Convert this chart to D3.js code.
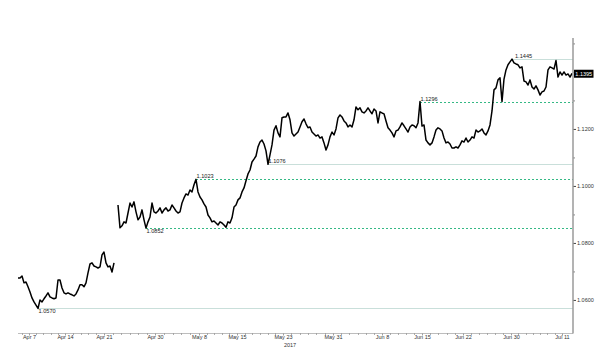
<!DOCTYPE html>
<html><head><meta charset="utf-8">
<script src="https://cdn.jsdelivr.net/npm/d3@7"></script>
<style>body{margin:0;background:#fff}svg{display:block}</style>
</head><body>
<svg id="c" width="600" height="358"></svg>
<script>
// EUR/USD price path (null = weekend gap)
const series = [
1.0677,1.0677,1.0684,1.0660,1.0663,1.0646,1.0628,1.0607,1.0593,1.0582,
1.0570,1.0600,1.0593,1.0604,1.0614,1.0625,1.0611,1.0607,1.0604,1.0607,
1.0670,1.0670,1.0642,1.0625,1.0621,1.0625,1.0621,1.0618,1.0614,1.0621,
1.0635,1.0653,1.0653,1.0646,1.0660,1.0695,1.0726,1.0730,1.0719,1.0716,
1.0712,1.0716,1.0758,1.0768,1.0730,1.0716,1.0719,1.0698,1.0730,null,
1.0933,1.0853,1.0860,1.0874,1.0870,1.0905,1.0940,1.0926,1.0944,1.0909,
1.0881,1.0891,1.0916,1.0881,1.0852,1.0874,1.0891,1.0940,1.0909,1.0905,
1.0912,1.0923,1.0905,1.0916,1.0923,1.0912,1.0916,1.0933,1.0923,1.0912,
1.0905,1.0909,1.0940,1.0958,1.0972,1.0968,1.0986,1.0979,1.1004,1.1023,
1.0979,1.0961,1.0951,1.0937,1.0926,1.0898,1.0888,1.0874,1.0877,1.0870,
1.0863,1.0874,1.0870,1.0863,1.0855,1.0874,1.0870,1.0888,1.0926,1.0933,
1.0951,1.0958,1.0979,1.0993,1.1018,1.1042,1.1056,1.1084,1.1094,1.1105,
1.1137,1.1154,1.1161,1.1147,1.1123,1.1076,1.1109,1.1144,1.1196,1.1211,
1.1186,1.1172,1.1239,1.1242,1.1242,1.1256,1.1232,1.1186,1.1175,1.1182,
1.1189,1.1207,1.1225,1.1235,1.1218,1.1204,1.1207,1.1189,1.1182,1.1175,
1.1179,1.1168,1.1172,1.1151,1.1126,1.1144,1.1172,1.1189,1.1179,1.1200,
1.1239,1.1249,1.1242,1.1228,1.1221,1.1207,1.1214,1.1207,1.1232,1.1277,
1.1267,1.1274,1.1260,1.1256,1.1263,1.1274,1.1263,1.1253,1.1270,1.1263,
1.1221,1.1260,1.1256,1.1253,1.1228,1.1204,1.1196,1.1186,1.1172,1.1193,
1.1196,1.1207,1.1221,1.1211,1.1200,1.1189,1.1207,1.1214,1.1211,1.1204,
1.1221,1.1296,1.1210,1.1214,1.1161,1.1151,1.1144,1.1151,1.1172,1.1196,
1.1204,1.1200,1.1193,1.1168,1.1151,1.1154,1.1147,1.1133,1.1133,1.1137,
1.1133,1.1144,1.1158,1.1154,1.1168,1.1154,1.1161,1.1172,1.1168,1.1196,
1.1189,1.1193,1.1200,1.1186,1.1179,1.1193,1.1214,1.1263,1.1337,1.1344,
1.1372,1.1379,1.1296,1.1375,1.1407,1.1425,1.1435,1.1445,1.1432,1.1428,
1.1425,1.1414,1.1418,1.1368,1.1365,1.1354,1.1372,1.1347,1.1340,1.1351,
1.1337,1.1319,1.1330,1.1333,1.1347,1.1407,1.1418,1.1414,1.1410,1.1440,
1.1382,1.1400,1.1389,1.1400,1.1389,1.1393,1.1382,1.1395
];
const tickLabels = ["Apr 7","Apr 14","Apr 21","Apr 30","May 8","May 15","May 23","May 31","Jun 8","Jun 15","Jun 22","Jun 30","Jul 11"];
const tickIndex  = [5.5,23.5,43,68.5,90.5,109.5,132.5,157.5,182,202,222.5,246.5,272];
const tradingDays = [5,5,6,5,5,6,6,6,5,5,6,7];
const yearLabel = "2017";
const yearUnder = "May 23";
const yLabelled = [1.06,1.08,1.10,1.12];
const yHiddenMajor = [1.14];
const yMinor = [1.07,1.09,1.11,1.13,1.15];
const levelValues = [1.1445,1.1296,1.1076,1.1023,1.0852,1.0570];
const levelSide   = ["above","above","above","above","below","below"];
const dottedLevels = [1.1296,1.1023,1.0852];
const lastValue = 1.1395;

const svg = d3.select("#c");
const font = "'Liberation Sans', Arial, sans-serif";
const x = d3.scaleLinear().domain([0, series.length - 1]).range([18, 572]);
const y = d3.scaleLinear().domain([1.0484, 1.1519]).range([333, 38]);
const axisX = 573;
const snap = v => Math.round(v) + 0.5;

// ---- x axis
svg.append("line").attr("x1",18).attr("x2",axisX).attr("y1",333.5).attr("y2",333.5)
  .attr("stroke","#bdbdbd").attr("stroke-width",1);
const minor = [];
for (let k = 0; k < tickIndex.length - 1; k++) {
  const step = (tickIndex[k+1] - tickIndex[k]) / tradingDays[k];
  for (let j = 1; j < tradingDays[k]; j++) minor.push(tickIndex[k] + j*step);
}
minor.push(tickIndex[0] - (tickIndex[1]-tickIndex[0])/tradingDays[0]);
svg.append("g").selectAll("line").data(minor).join("line")
  .attr("x1",d=>snap(x(d))).attr("x2",d=>snap(x(d))).attr("y1",333).attr("y2",335)
  .attr("stroke","#999").attr("stroke-width",0.8);
const gx = svg.append("g").attr("transform","translate(0,333.5)")
  .call(d3.axisBottom(x).tickValues(tickIndex).tickSize(2).tickSizeOuter(0).tickPadding(0)
    .tickFormat((d,i)=>tickLabels[i]));
gx.select(".domain").remove();
gx.selectAll(".tick line").attr("stroke","#888").attr("stroke-width",0.8);
gx.selectAll(".tick text").attr("font-family",font).attr("font-size","5.5px").attr("fill","#333");
const yi = tickLabels.indexOf(yearUnder);
svg.append("text").attr("x", x(tickIndex[yi]) + 7).attr("y", 347)
  .attr("text-anchor","middle").attr("font-family",font).attr("font-size","5.5px").attr("fill","#333")
  .text(yearLabel);

// ---- reference levels
const gl = svg.append("g");
levelValues.forEach((v, k) => {
  const idx = series.indexOf(v);
  const dotted = dottedLevels.includes(v);
  gl.append("line").attr("x1", x(idx)).attr("x2", axisX).attr("y1", snap(y(v))).attr("y2", snap(y(v)))
    .attr("stroke", dotted ? "#35b985" : "#c9dfda").attr("stroke-width", 1)
    .attr("stroke-dasharray", dotted ? "2,2" : null);
});

// ---- price line
svg.append("path").datum(series)
  .attr("d", d3.line().defined(d => d !== null).x((d,i) => x(i)).y(d => y(d)))
  .attr("fill","none").attr("stroke","#000").attr("stroke-width",1.5)
  .attr("stroke-linejoin","round");

// level labels
levelValues.forEach((v, k) => {
  const idx = series.indexOf(v);
  const above = levelSide[k] === "above";
  const tx = x(idx) + (k === 0 ? 3 : 0.5);
  const ty = above ? snap(y(v)) - 2 : snap(y(v)) + 4.8;
  const t = gl.append("text").attr("x", tx).attr("y", ty)
    .attr("font-family", font).attr("font-size","5.6px").attr("fill","#222")
    .text(d3.format(".4f")(v));
  if (!above) {
    const bb = t.node().getBBox();
    gl.insert("rect", "text").attr("x", bb.x - 0.5).attr("y", bb.y + 1).attr("width", bb.width + 1)
      .attr("height", bb.height - 1).attr("fill", "#fff");
  }
});

// ---- y axis
const gyMinor = svg.append("g").attr("transform",`translate(${axisX},0)`)
  .call(d3.axisRight(y).tickValues(yMinor.concat(yHiddenMajor)).tickSize(2).tickFormat(""));
gyMinor.select(".domain").remove();
gyMinor.selectAll(".tick line").attr("stroke","#888");
const gy = svg.append("g").attr("transform",`translate(${axisX},0)`)
  .call(d3.axisRight(y).tickValues(yLabelled).tickSize(3).tickPadding(1).tickFormat(d3.format(".4f")));
gy.select(".domain").remove();
gy.selectAll(".tick line").attr("stroke","#444");
gy.selectAll(".tick text").attr("font-family",font).attr("font-size","5.5px").attr("fill","#333");
svg.append("line").attr("x1",axisX).attr("x2",axisX).attr("y1",38).attr("y2",333.5)
  .attr("stroke","#9a9a9a").attr("stroke-width",1.5);

// last value box
const ly = y(lastValue);
svg.append("rect").attr("x", axisX + 1).attr("y", ly - 3.6).attr("width", 19.5).attr("height", 8)
  .attr("fill","#000");
svg.append("text").attr("x", axisX + 10.75).attr("y", ly + 2.2).attr("text-anchor","middle")
  .attr("font-family",font).attr("font-size","5.5px").attr("fill","#fff").text(d3.format(".4f")(lastValue));
</script>
</body></html>
